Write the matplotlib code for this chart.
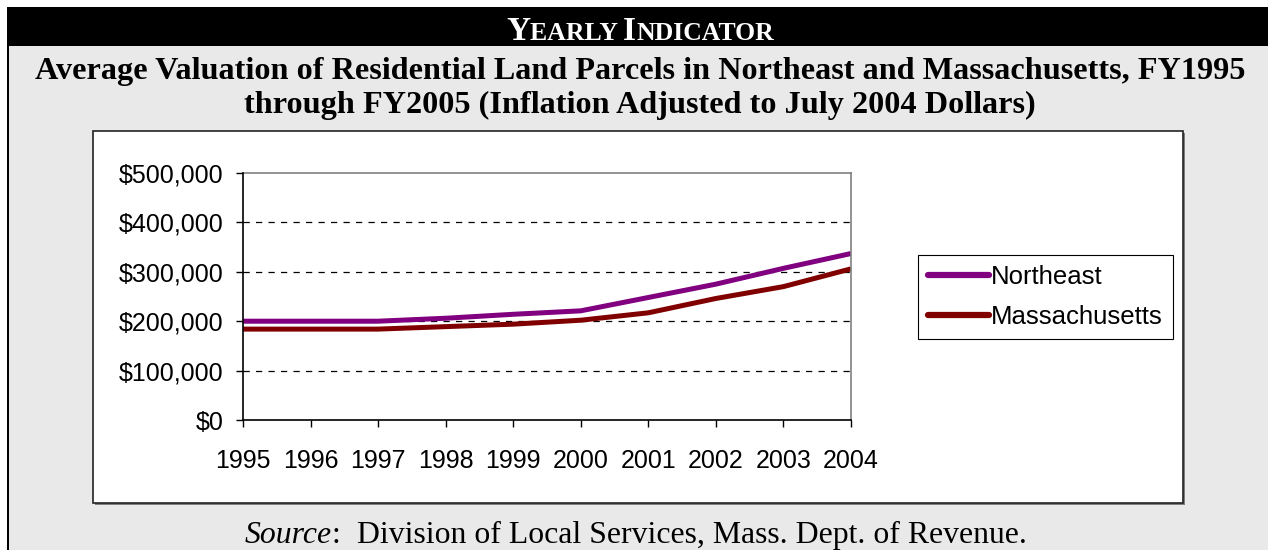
import matplotlib
matplotlib.use("Agg")
import matplotlib.pyplot as plt
from matplotlib.patches import Rectangle
from matplotlib.ticker import FuncFormatter

years = [1995, 1996, 1997, 1998, 1999, 2000, 2001, 2002, 2003, 2004]
northeast = [200000, 200000, 200000, 206000, 214000, 221000, 248000, 275000, 307000, 337000]
massachusetts = [184000, 184000, 184000, 189000, 194000, 202000, 217000, 246000, 270000, 306000]
y_ticks = [0, 100000, 200000, 300000, 400000, 500000]

W, H = 1268, 550
fig = plt.figure(figsize=(W / 100, H / 100), dpi=100)
fig.patch.set_facecolor("white")

def px(x0, y0, x1, y1):
    # pixel box (from top-left) -> figure fraction rect
    return (x0 / W, 1 - y1 / H, (x1 - x0) / W, (y1 - y0) / H)

def rect(box, **kw):
    x, y, w, h = px(*box)
    fig.patches.append(Rectangle((x, y), w, h, transform=fig.transFigure, zorder=0, **kw))

# grey panel, black band, left rule
rect((8, 7, W + 5, H + 5), facecolor="#e9e9e9", edgecolor="none")
rect((7, 7, W + 5, 46), facecolor="black", edgecolor="none")
rect((7, 7, 9, H + 5), facecolor="black", edgecolor="none")

# white chart area with shadow
rect((95, 133, 1185, 505), facecolor="#7f7f7f", edgecolor="none")
rect((93, 131, 1183, 503), facecolor="white", edgecolor="#222222", linewidth=1.2)

serif = "Liberation Serif"
sans = "Liberation Sans"

fig.canvas.draw()
r = fig.canvas.get_renderer()

def run(pieces, cx, y):
    texts = []
    widths = []
    for s, kw in pieces:
        t = fig.text(0, y, s, ha="left", va="baseline", **kw)
        texts.append(t)
        widths.append(t.get_window_extent(r).width)
    total = sum(widths)
    x = cx * W - total / 2
    for t, w in zip(texts, widths):
        t.set_x(x / W)
        x += w

big = dict(family=serif, weight="bold", size=24, color="white")
small = dict(family=serif, weight="bold", size=18.5, color="white")
run([("Y", big), ("EARLY\u2009", small), ("I", big), ("NDICATOR", small)], 640 / W, 1 - 40 / H)

fig.text(640 / W, 1 - 79 / H, "Average Valuation of Residential Land Parcels in Northeast and Massachusetts, FY1995",
         ha="center", va="baseline", family=serif, weight="bold", size=23.2)
fig.text(640 / W, 1 - 113 / H, "through FY2005 (Inflation Adjusted to July 2004 Dollars)",
         ha="center", va="baseline", family=serif, weight="bold", size=23.2)

src = dict(family=serif, size=22.9, color="black")
run([("Source", dict(src, style="italic")), (":  Division of Local Services, Mass. Dept. of Revenue.", src)],
    636 / W, 1 - 543 / H)

ax = fig.add_axes(px(243, 173, 851, 420))
ax.set_zorder(2)
ax.set_facecolor("white")
ax.plot(years, northeast, color="#800080", linewidth=3.6, label="Northeast", solid_capstyle="butt")
ax.plot(years, massachusetts, color="#800000", linewidth=3.6, label="Massachusetts", solid_capstyle="butt")
ax.set_xlim(years[0], years[-1])
ax.set_ylim(0, 500000)
ax.set_xticks(years)
ax.set_yticks(y_ticks)
ax.yaxis.set_major_formatter(FuncFormatter(lambda v, p: "${:,.0f}".format(v)))
for lab in ax.get_xticklabels() + ax.get_yticklabels():
    lab.set_family(sans)
    lab.set_fontsize(18)
ax.tick_params(axis="both", direction="out", length=5, width=1, color="black")
ax.tick_params(axis="y", pad=9)
ax.tick_params(axis="x", pad=16)
for v in y_ticks[1:-1]:
    ax.axhline(v, color="black", linewidth=0.9, linestyle=(0, (5, 5)), zorder=0)
for s in ["left", "bottom"]:
    ax.spines[s].set_color("black")
    ax.spines[s].set_linewidth(1.2)
for s in ["top", "right"]:
    ax.spines[s].set_color("#808080")
    ax.spines[s].set_linewidth(1.2)
ax.spines["left"].set_zorder(3)

leg = fig.legend(loc="upper left", bbox_to_anchor=(918 / W, 1 - 255 / H), borderaxespad=0,
                 prop=dict(family=sans, size=18.5), handlelength=2.35, handletextpad=0.1,
                 labelspacing=0.62, borderpad=0.4, fancybox=False, framealpha=1,
                 edgecolor="black")
leg.get_frame().set_linewidth(0.8)
leg.set_zorder(3)
for h in leg.get_lines():
    h.set_linewidth(4.5)
    h.set_solid_capstyle("round")

fig.savefig("out.png", dpi=100)
